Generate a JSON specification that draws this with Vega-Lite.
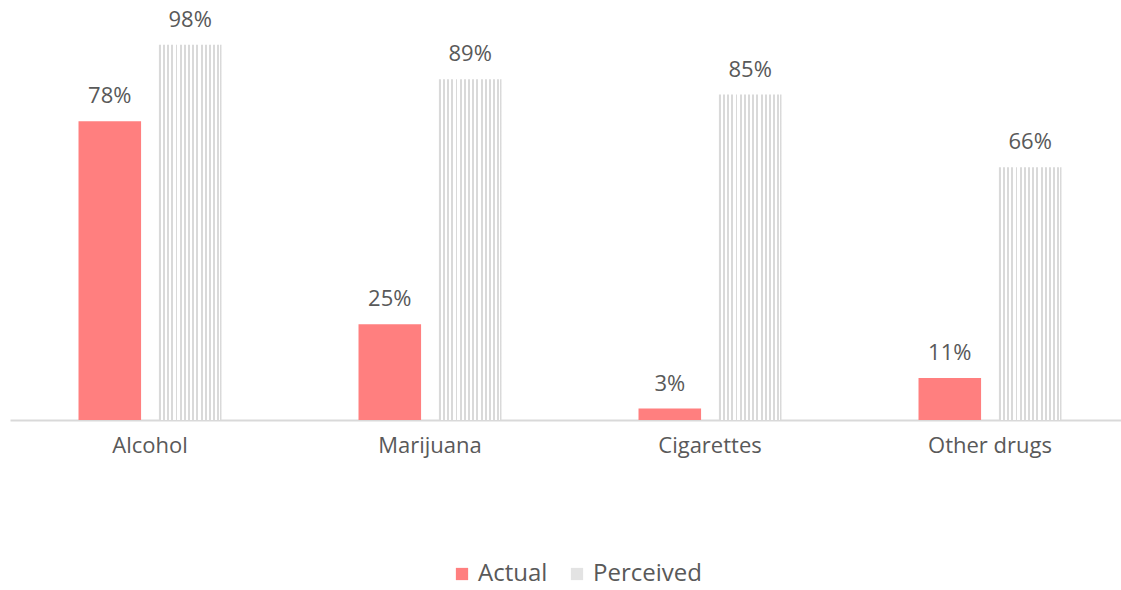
{
  "$schema": "https://vega.github.io/schema/vega-lite/v6.json",
  "width": 1111,
  "height": 420,
  "autosize": "none",
  "padding": {"left": 10, "top": 0, "right": 0, "bottom": 170},
  "background": "white",
  "config": {"view": {"stroke": null}, "font": "Open Sans"},
  "data": {"values": [
    {"category": "Alcohol", "series": "Actual", "value": 78},
    {"category": "Alcohol", "series": "Perceived", "value": 98},
    {"category": "Marijuana", "series": "Actual", "value": 25},
    {"category": "Marijuana", "series": "Perceived", "value": 89},
    {"category": "Cigarettes", "series": "Actual", "value": 3},
    {"category": "Cigarettes", "series": "Perceived", "value": 85},
    {"category": "Other drugs", "series": "Actual", "value": 11},
    {"category": "Other drugs", "series": "Perceived", "value": 66}
  ]},
  "encoding": {
    "x": {"field": "category", "type": "nominal", "sort": ["Alcohol", "Marijuana", "Cigarettes", "Other drugs"],
      "scale": {"paddingInner": 0, "paddingOuter": 0, "range": [0, 1120]},
      "axis": {"title": null, "labelAngle": 0, "labelFontSize": 22, "labelColor": "#595959", "domainColor": "#d9d9d9", "domainWidth": 2, "ticks": false, "labelPadding": 15}},
    "xOffset": {"field": "series", "type": "nominal", "scale": {"paddingInner": 0.222, "paddingOuter": 0.852}},
    "y": {"field": "value", "type": "quantitative", "scale": {"domain": [0, 109.7], "nice": false}, "axis": null}
  },
  "layer": [
    {
      "mark": {"type": "bar"},
      "encoding": {
        "color": {"field": "series", "type": "nominal",
          "condition": {"test": "datum.series === 'Perceived'", "value": {"gradient": "linear", "x1": 0, "x2": 1, "y1": 0, "y2": 0, "stops": [
            {"offset": 0, "color": "#d9d9d9"}, {"offset": 0.03, "color": "#d9d9d9"}, {"offset": 0.03, "color": "#ffffff"}, {"offset": 0.0667, "color": "#ffffff"},
            {"offset": 0.0667, "color": "#d9d9d9"}, {"offset": 0.0967, "color": "#d9d9d9"}, {"offset": 0.0967, "color": "#ffffff"}, {"offset": 0.1333, "color": "#ffffff"},
            {"offset": 0.1333, "color": "#d9d9d9"}, {"offset": 0.1633, "color": "#d9d9d9"}, {"offset": 0.1633, "color": "#ffffff"}, {"offset": 0.2, "color": "#ffffff"},
            {"offset": 0.2, "color": "#d9d9d9"}, {"offset": 0.23, "color": "#d9d9d9"}, {"offset": 0.23, "color": "#ffffff"}, {"offset": 0.2667, "color": "#ffffff"},
            {"offset": 0.2667, "color": "#d9d9d9"}, {"offset": 0.2967, "color": "#d9d9d9"}, {"offset": 0.2967, "color": "#ffffff"}, {"offset": 0.3333, "color": "#ffffff"},
            {"offset": 0.3333, "color": "#d9d9d9"}, {"offset": 0.3633, "color": "#d9d9d9"}, {"offset": 0.3633, "color": "#ffffff"}, {"offset": 0.4, "color": "#ffffff"},
            {"offset": 0.4, "color": "#d9d9d9"}, {"offset": 0.43, "color": "#d9d9d9"}, {"offset": 0.43, "color": "#ffffff"}, {"offset": 0.4667, "color": "#ffffff"},
            {"offset": 0.4667, "color": "#d9d9d9"}, {"offset": 0.4967, "color": "#d9d9d9"}, {"offset": 0.4967, "color": "#ffffff"}, {"offset": 0.5333, "color": "#ffffff"},
            {"offset": 0.5333, "color": "#d9d9d9"}, {"offset": 0.5633, "color": "#d9d9d9"}, {"offset": 0.5633, "color": "#ffffff"}, {"offset": 0.6, "color": "#ffffff"},
            {"offset": 0.6, "color": "#d9d9d9"}, {"offset": 0.63, "color": "#d9d9d9"}, {"offset": 0.63, "color": "#ffffff"}, {"offset": 0.6667, "color": "#ffffff"},
            {"offset": 0.6667, "color": "#d9d9d9"}, {"offset": 0.6967, "color": "#d9d9d9"}, {"offset": 0.6967, "color": "#ffffff"}, {"offset": 0.7333, "color": "#ffffff"},
            {"offset": 0.7333, "color": "#d9d9d9"}, {"offset": 0.7633, "color": "#d9d9d9"}, {"offset": 0.7633, "color": "#ffffff"}, {"offset": 0.8, "color": "#ffffff"},
            {"offset": 0.8, "color": "#d9d9d9"}, {"offset": 0.83, "color": "#d9d9d9"}, {"offset": 0.83, "color": "#ffffff"}, {"offset": 0.8667, "color": "#ffffff"},
            {"offset": 0.8667, "color": "#d9d9d9"}, {"offset": 0.8967, "color": "#d9d9d9"}, {"offset": 0.8967, "color": "#ffffff"}, {"offset": 0.9333, "color": "#ffffff"},
            {"offset": 0.9333, "color": "#d9d9d9"}, {"offset": 0.9633, "color": "#d9d9d9"}, {"offset": 0.9633, "color": "#ffffff"}, {"offset": 0.97, "color": "#ffffff"},
            {"offset": 0.97, "color": "#d9d9d9"}, {"offset": 1, "color": "#d9d9d9"}
          ]}},
          "scale": {"domain": ["Actual", "Perceived"], "range": ["#ff7f7f", "#e3e3e3"]},
          "legend": {"title": null, "orient": "none", "legendX": 440, "legendY": 562, "direction": "horizontal", "symbolType": "square", "symbolSize": 150, "symbolStrokeWidth": 0, "labelFontSize": 24, "labelColor": "#595959", "labelOffset": 4, "columnPadding": 17,
            "encode": {"symbols": {"update": {"fill": {"signal": "datum.value === 'Perceived' ? {gradient: 'linear', x1: 0, x2: 1, y1: 0, y2: 0, stops: [{offset: 0, color: '#d9d9d9'}, {offset: 0.12, color: '#d9d9d9'}, {offset: 0.12, color: '#ffffff'}, {offset: 0.25, color: '#ffffff'}, {offset: 0.25, color: '#d9d9d9'}, {offset: 0.37, color: '#d9d9d9'}, {offset: 0.37, color: '#ffffff'}, {offset: 0.5, color: '#ffffff'}, {offset: 0.5, color: '#d9d9d9'}, {offset: 0.62, color: '#d9d9d9'}, {offset: 0.62, color: '#ffffff'}, {offset: 0.75, color: '#ffffff'}, {offset: 0.75, color: '#d9d9d9'}, {offset: 0.87, color: '#d9d9d9'}, {offset: 0.87, color: '#ffffff'}, {offset: 1, color: '#ffffff'}]} : '#ff7f7f'"}}}}}}
      }
    },
    {
      "mark": {"type": "text", "baseline": "bottom", "dy": -13, "fontSize": 22, "color": "#595959"},
      "encoding": {
        "text": {"field": "lbl", "type": "nominal"}
      },
      "transform": [{"calculate": "datum.value + '%'", "as": "lbl"}]
    }
  ]
}
